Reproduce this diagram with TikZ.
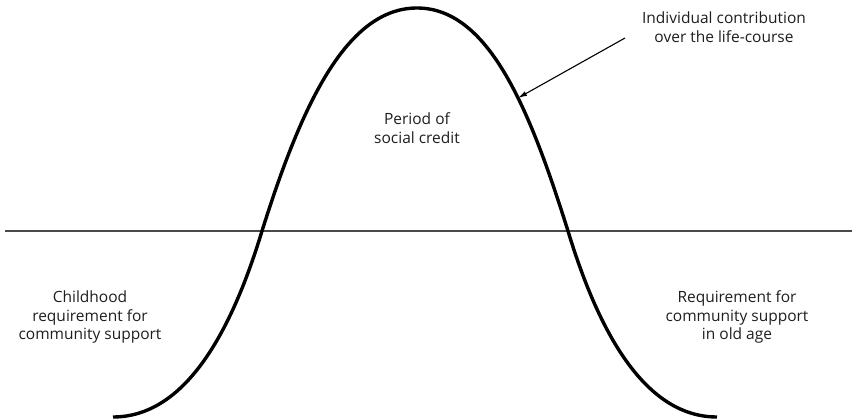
\documentclass[tikz,border=0pt]{standalone}
\usepackage{fontspec}
\setsansfont{Open Sans}
\usetikzlibrary{arrows.meta}
\definecolor{textc}{HTML}{1E1E1E}
\definecolor{axisc}{HTML}{4A4A4A}

\begin{document}
\begin{tikzpicture}[x=1pt, y=-1pt,
    font=\sffamily\fontsize{15.5}{18.5}\selectfont,
    lbl/.style={align=center, text=textc, inner sep=0pt},
    lifecurve/.style={line width=3.4pt, black},
    axisline/.style={line width=1.3pt, axisc},
    pointer/.style={line width=1.1pt, -{Latex[length=9pt, width=5pt]}}]
  \useasboundingbox (0,0) rectangle (852,420);
  % zero line
  \coordinate (axl) at (5,231);
  \coordinate (axr) at (852,231);
  \draw[axisline] (axl) -- (axr);
  % contribution curve
  \draw[lifecurve] (113,417) .. controls (190,417) and (235,320) .. (262,231)
        .. controls (300,110) and (345,8) .. (417,8)
        .. controls (489,8) and (530,110) .. (568,231)
        .. controls (595,320) and (640,417) .. (717,417);
  % labels
  \node[lbl] (contrib) at (724,27) {Individual contribution\\over the life-course};
  \node[lbl] (credit) at (417,128) {Period of\\social credit};
  \node[lbl] (child) at (90,317) {Childhood\\requirement for\\community support};
  \node[lbl] (old) at (737,317) {Requirement for\\community support\\in old age};
  % pointer to the curve
  \coordinate (from) at (625,38);
  \coordinate (tip) at (518,98);
  \draw[pointer] (from) -- (tip);
\end{tikzpicture}
\end{document}
